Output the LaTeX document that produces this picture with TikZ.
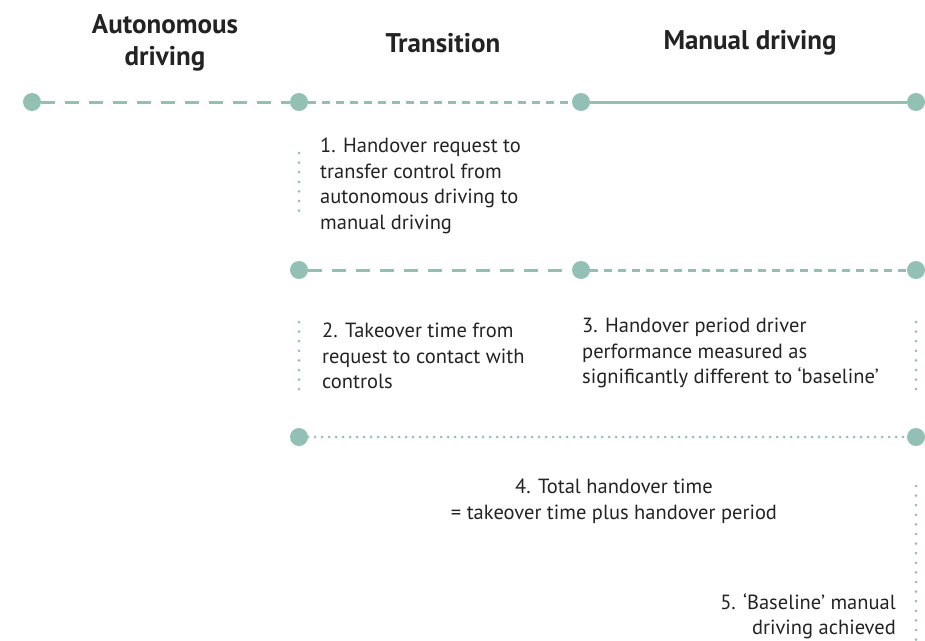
\documentclass[tikz,border=0pt]{standalone}
\usepackage{fontspec}
\setmainfont{PT Sans}
\usetikzlibrary{positioning}
\definecolor{teal}{RGB}{147,192,180}
\definecolor{ink}{RGB}{35,35,35}
\tikzset{
  dot/.style={circle,fill=teal,inner sep=0pt,minimum size=18pt},
  longdash/.style={teal,line width=3pt,dash pattern=on 14pt off 10pt},
  shortdash/.style={teal,line width=3pt,dash pattern=on 8pt off 6pt},
  solidline/.style={teal,line width=3pt},
  dotline/.style={teal,line width=3pt,line cap=round,dash pattern=on 0pt off 7pt},
  vdotline/.style={teal,line width=3pt,line cap=round,dash pattern=on 0pt off 9.6pt},
  head/.style={font=\fontsize{27}{32}\selectfont\bfseries,text=ink,align=center,inner sep=0pt},
  note/.style={font=\fontsize{20.5}{25.5}\selectfont,text=ink,inner sep=0pt}
}
\begin{document}
\begin{tikzpicture}[x=1pt,y=-1pt]
\useasboundingbox (0,0) rectangle (925,640);

% headings
\node[head] (hauto) at (165,43) {Autonomous\\driving};
\node[head] (htrans) at (443,43) {Transition};
\node[head] (hman) at (750,43) {Manual driving};

% first row
\node[dot] (a1) at (32,102) {};
\node[dot] (a2) at (299,102) {};
\node[dot] (a3) at (581,102) {};
\node[dot] (a4) at (916,102) {};
\draw[longdash] (a1) -- (a2);
\draw[shortdash] (a2) -- (a3);
\draw[solidline] (a3) -- (a4);

% second row
\node[dot] (b1) at (299,270) {};
\node[dot] (b2) at (581,270) {};
\node[dot] (b3) at (916,270) {};
\draw[longdash] (b1) -- (b2);
\draw[shortdash] (b2) -- (b3);

% third row
\node[dot] (c1) at (299,437) {};
\node[dot] (c2) at (916,437) {};
\draw[dotline] (c1) -- (c2);

% vertical markers
\coordinate (v1s) at (299,153);
\coordinate (v1e) at (299,220);
\coordinate (v2s) at (299,322);
\coordinate (v2e) at (299,390);
\coordinate (v3s) at (916,322);
\coordinate (v3e) at (916,390);
\coordinate (v4s) at (916,486);
\coordinate (v4e) at (916,645);
\draw[vdotline] (v1s) -- (v1e);
\draw[vdotline] (v2s) -- (v2e);
\draw[vdotline] (v3s) -- (v3e);
\draw[vdotline] (v4s) -- (v4e);

% notes
\node[note,anchor=north west,align=left] (n1) at (320,138)
  {1. Handover request to\\transfer control from\\autonomous driving to\\manual driving};
\node[note,anchor=north west,align=left] (n2) at (322,323)
  {2. Takeover time from\\request to contact with\\controls};
\node[note,anchor=north west,align=left] (n3) at (582,318)
  {3. Handover period driver\\performance measured as\\significantly different to ‘baseline’};
\node[note,anchor=north,align=center] (n4) at (614,479)
  {4. Total handover time\\= takeover time plus handover period};
\node[note,anchor=north east,align=right] (n5) at (896,593)
  {5. ‘Baseline’ manual\\driving achieved};
\end{tikzpicture}
\end{document}
